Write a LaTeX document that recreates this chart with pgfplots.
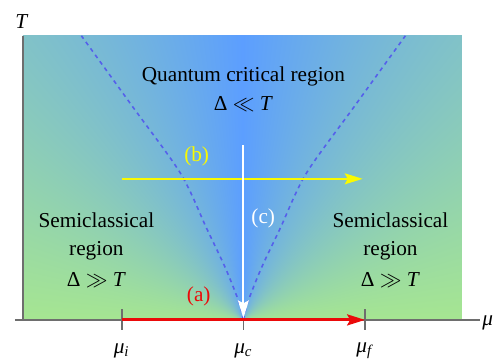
\documentclass[border=0pt]{standalone}
\usepackage{fontspec}
\setmainfont{Liberation Serif}
\usepackage{pgfplots}
\pgfplotsset{compat=1.18}
\usetikzlibrary{arrows.meta}
\definecolor{dashblue}{RGB}{85,95,235}
\definecolor{axisgray}{RGB}{110,110,110}
\definecolor{ylw}{RGB}{250,250,0}
\definecolor{rd}{RGB}{235,10,10}
\pgfdeclarefunctionalshading{quantum}{\pgfpoint{0bp}{0bp}}{\pgfpoint{100bp}{100bp}}{}{
 25 sub 50 div 286 mul abs 0.01 add
 exch 50 sub 25 div abs 221 mul
 exch atan 90 div
 dup 1.35 mul exch dup mul 0.35 mul sub
 dup 0.29 mul 0.36 add exch
 dup 0.28 mul 0.62 add exch
 -0.43 mul 1 add
}
\tikzset{lbl/.style={font=\rmfamily\fontsize{10.7pt}{12.8pt}\selectfont, inner sep=0pt}}
\newcommand{\sub}[1]{\textsubscript{\textit{#1}}}
\begin{document}
\begin{tikzpicture}
\begin{axis}[
 width=221pt, height=143pt, scale only axis,
 xmin=-1.812, xmax=1.796, ymin=0, ymax=1,
 hide axis, clip=false,
]
\shade[shading=quantum] (axis cs:-1.812,0) rectangle (axis cs:1.796,1);
\path (axis cs:-2,-0.133) rectangle (axis cs:2.0245,1.126);
% axes
\draw[axisgray, line width=0.9pt] (axis cs:-1.812,0) -- (axis cs:-1.812,1);
\draw[axisgray, line width=0.9pt] (axis cs:-1.878,0) -- (axis cs:1.943,0);
\draw[axisgray, line width=0.9pt] (axis cs:-1,0.038) -- (axis cs:-1,-0.035);
\draw[axisgray, line width=0.9pt] (axis cs:0,0.038) -- (axis cs:0,-0.035);
\draw[axisgray, line width=0.9pt] (axis cs:1,0.038) -- (axis cs:1,-0.035);
% crossover lines
\addplot[dashblue, line width=0.8pt, dash pattern=on 2pt off 2pt, smooth] coordinates {
 (0,0) (-0.033,0.059) (-0.147,0.182) (-0.302,0.322) (-0.514,0.514) (-0.906,0.748) (-1.331,1.0)};
\addplot[dashblue, line width=0.8pt, dash pattern=on 2pt off 2pt, smooth] coordinates {
 (0,0) (0.033,0.059) (0.147,0.182) (0.302,0.322) (0.514,0.514) (0.906,0.748) (1.331,1.0)};
% protocols
\addplot[rd, line width=1.5pt, -{Stealth[length=9pt,width=5.5pt,inset=1.5pt]}] coordinates {(-1,0) (1,0)};
\addplot[ylw, line width=1pt, -{Stealth[length=9pt,width=5.5pt,inset=1.5pt]}] coordinates {(-1,0.4965) (0.98,0.4965)};
\addplot[white, line width=1pt, -{Stealth[length=9pt,width=5.5pt,inset=1.5pt]}] coordinates {(0,0.615) (0,0.006)};
% labels
\node[lbl, text=rd] at (axis cs:-0.367,0.084) {(a)};
\node[lbl, text=ylw] at (axis cs:-0.384,0.577) {(b)};
\node[lbl, text=white] at (axis cs:0.163,0.357) {(c)};
\node[lbl] at (axis cs:0,0.857) {Quantum critical region};
\node[lbl] at (axis cs:0,0.759) {Δ $\ll$ \textit{T}};
\node[lbl] at (axis cs:-1.208,0.35) {Semiclassical};
\node[lbl] at (axis cs:-1.208,0.245) {region};
\node[lbl] at (axis cs:-1.208,0.14) {Δ $\gg$ \textit{T}};
\node[lbl] at (axis cs:1.208,0.35) {Semiclassical};
\node[lbl] at (axis cs:1.208,0.245) {region};
\node[lbl] at (axis cs:1.208,0.14) {Δ $\gg$ \textit{T}};
\node[lbl] at (axis cs:-1,-0.108) {\textit{μ}\sub{i}};
\node[lbl] at (axis cs:0,-0.108) {\textit{μ}\sub{c}};
\node[lbl] at (axis cs:1,-0.108) {\textit{μ}\sub{f}};
\node[lbl, anchor=west] at (axis cs:1.96,-0.01) {\textit{μ}};
\node[lbl] at (axis cs:-1.82,1.049) {\textit{T}};
\end{axis}
\end{tikzpicture}
\end{document}
